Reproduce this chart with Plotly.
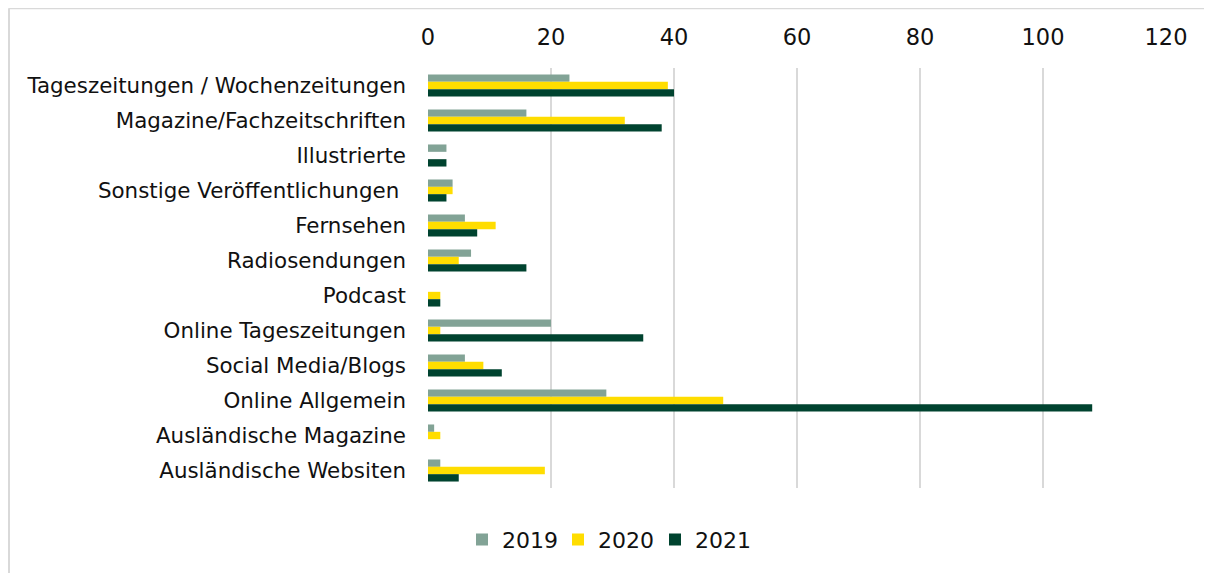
import plotly.graph_objects as go

categories = [
    "Tageszeitungen / Wochenzeitungen",
    "Magazine/Fachzeitschriften",
    "Illustrierte",
    "Sonstige Veröffentlichungen ",
    "Fernsehen",
    "Radiosendungen",
    "Podcast",
    "Online Tageszeitungen",
    "Social Media/Blogs",
    "Online Allgemein",
    "Ausländische Magazine",
    "Ausländische Websiten",
]
values_2019 = [23, 16, 3, 4, 6, 7, 0, 20, 6, 29, 1, 2]
values_2020 = [39, 32, 0, 4, 11, 5, 2, 2, 9, 48, 2, 19]
values_2021 = [40, 38, 3, 3, 8, 16, 2, 35, 12, 108, 0, 5]
series_names = ["2019", "2020", "2021"]
colors = ["#82a396", "#ffdd00", "#00432f"]
x_ticks = [0, 20, 40, 60, 80, 100, 120]

FONT = "DejaVu Sans"
FS_CAT = 21.4
FS_TICK = 22.5
FS_LEG = 22
TXT = "#111111"
# page has an 8px body margin -> figure starts at (8, 8)
W, H = 1204, 565
ML, MR, MT, MB = 420, 46, 60, 83
PW, PH = W - ML - MR, H - MT - MB

legend_names = ["legend", "legend2", "legend3"]
legend_px = [462, 558, 655]  # page x of each legend item

fig = go.Figure()
for name, vals, col, lg in zip(series_names, [values_2019, values_2020, values_2021], colors, legend_names):
    fig.add_trace(go.Bar(
        y=categories, x=vals, name=name, orientation="h",
        marker=dict(color=col, line=dict(width=0)),
        legend=lg,
    ))

def legend_cfg(px):
    return dict(
        orientation="h", x=(px - 8 - ML) / PW, xanchor="left",
        y=(MT + PH - (542 - 8)) / PH, yanchor="middle",
        font=dict(family=FONT, size=FS_LEG, color=TXT),
        itemwidth=30, bgcolor="rgba(0,0,0,0)",
    )

fig.update_layout(
    width=W, height=H,
    margin=dict(l=ML, r=MR, t=MT, b=MB),
    paper_bgcolor="white", plot_bgcolor="white",
    barmode="group", bargap=0.37, bargroupgap=0,
    font=dict(family=FONT, size=FS_CAT, color=TXT),
    showlegend=True,
    legend=legend_cfg(legend_px[0]),
    legend2=legend_cfg(legend_px[1]),
    legend3=legend_cfg(legend_px[2]),
    xaxis=dict(
        side="top", range=[0, 120], tickvals=x_ticks,
        showgrid=True, gridcolor="#d9d9d9", gridwidth=2,
        zeroline=False, showline=False, ticks="",
        ticklabelstandoff=18,
        tickfont=dict(family=FONT, size=FS_TICK, color=TXT),
    ),
    yaxis=dict(
        autorange="reversed", showgrid=False, zeroline=False, showline=False,
        ticks="", ticklabelstandoff=21,
        tickfont=dict(family=FONT, size=FS_CAT, color=TXT),
    ),
    shapes=[
        dict(type="line", xref="paper", yref="paper",
             x0=(1 - ML) / PW, x1=(1 - ML) / PW, y0=1 + MT / PH, y1=-1,
             line=dict(color="#d9d9d9", width=2)),
        dict(type="line", xref="paper", yref="paper",
             x0=(1 - ML) / PW, x1=2, y0=1 + MT / PH, y1=1 + MT / PH,
             line=dict(color="#d9d9d9", width=2)),
    ],
)

fig.write_html("out.html")
